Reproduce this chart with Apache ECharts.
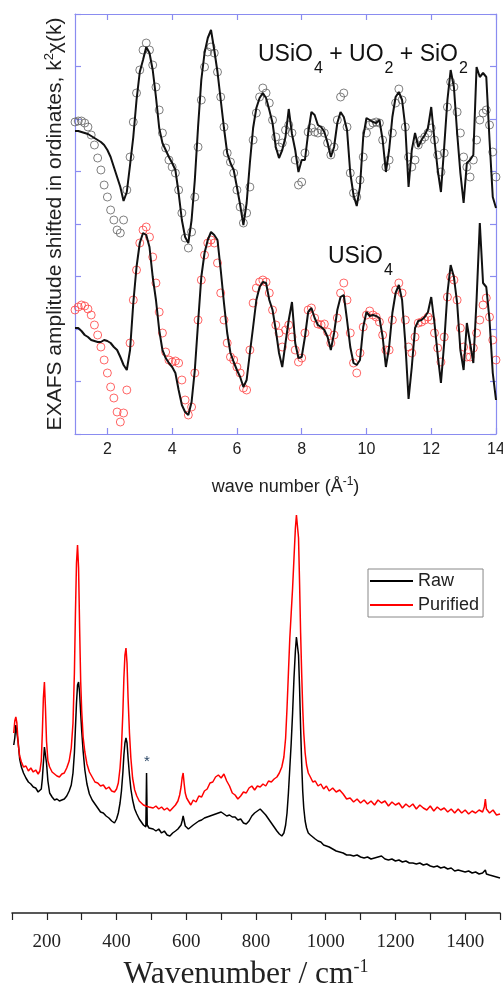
<!DOCTYPE html>
<html>
<head>
<meta charset="utf-8">
<script src="https://cdn.jsdelivr.net/npm/echarts@6/dist/echarts.min.js"></script>
<style>html,body{margin:0;padding:0;background:#fff;}#c{width:503px;height:986px;}</style>
</head>
<body>
<div id="c"></div>
<script>
// ---- EXAFS panel (wave number k, Å^-1) ----
const kVals = [
 1.0,1.1,1.2,1.3,1.4,1.5,1.6,1.7,1.8,1.9,
 2.0,2.1,2.2,2.3,2.4,2.5,2.6,2.7,2.8,2.9,
 3.0,3.1,3.2,3.3,3.4,3.5,3.6,3.7,3.8,3.9,
 4.0,4.1,4.2,4.3,4.4,4.5,4.6,4.7,4.8,4.9,
 5.0,5.1,5.2,5.3,5.4,5.5,5.6,5.7,5.8,5.9,
 6.0,6.1,6.2,6.3,6.4,6.5,6.6,6.7,6.8,6.9,
 7.0,7.1,7.2,7.3,7.4,7.5,7.6,7.7,7.8,7.9,
 8.0,8.1,8.2,8.3,8.4,8.5,8.6,8.7,8.8,8.9,
 9.0,9.1,9.2,9.3,9.4,9.5,9.6,9.7,9.8,9.9,
 10.0,10.1,10.2,10.3,10.4,10.5,10.6,10.7,10.8,10.9,
 11.0,11.1,11.2,11.3,11.4,11.5,11.6,11.7,11.8,11.9,
 12.0,12.1,12.2,12.3,12.4,12.5,12.6,12.7,12.8,12.9,
 13.0,13.1,13.2,13.3,13.4,13.5,13.6,13.7,13.8,13.9,
 14.0];
// USiO4 + UO2 + SiO2 (shifted up) : solid line
const mixLine = [
 303,303,302,301,300,298,296,294,292,289,
 284,277,267,257,247,233,242,269,297,334,
 362,374,387,381,364,337,306,291,284,277,
 271,264,241,214,197,191,214,254,307,354,
 381,396,404,384,362,334,306,281,271,264,
 247,229,209,231,271,306,326,336,341,336,
 324,311,287,276,284,297,325,300,284,262,
 274,274,301,322,319,309,307,302,291,277,
 287,311,322,317,304,261,239,228,247,297,
 316,314,312,311,314,294,262,284,317,337,
 342,334,307,247,284,301,287,294,299,306,
 327,294,264,242,287,334,364,347,301,261,
 231,271,274,279,367,357,361,357,294,237,
 226];
// USiO4 + UO2 + SiO2 : open circles
const mixCircles = [
 312,313,313,311,307,299,289,276,264,249,
 237,224,214,204,201,214,244,277,312,341,
 364,384,391,384,369,347,324,301,286,274,
 267,261,244,221,196,186,202,237,287,334,
 367,382,387,381,362,337,307,281,272,261,
 244,227,211,221,247,294,321,337,346,341,
 331,314,297,287,291,304,309,301,274,249,
 252,281,302,306,302,301,304,301,291,279,
 287,314,337,341,307,261,241,237,254,277,
 301,309,311,312,311,294,267,274,301,331,
 345,334,307,277,267,274,289,294,297,301,
 306,294,279,262,281,327,352,347,322,301,
 277,267,257,274,294,314,321,324,309,282,
 257];
// USiO4 : solid line
const usioLine = [
 106,106,103,99,97,94,93,92,92,94,
 93,91,87,84,77,69,64,84,131,167,
 191,201,199,187,157,134,104,84,76,71,
 67,61,44,29,22,19,32,64,111,157,
 181,194,202,199,194,164,131,101,81,72,
 64,57,47,54,81,107,134,147,152,151,
 134,124,104,81,67,91,114,132,91,76,
 77,97,122,126,116,109,107,104,97,84,
 101,124,137,139,114,87,71,69,74,107,
 122,118,119,118,116,97,67,87,121,141,
 149,134,91,35,67,106,113,114,117,122,
 137,111,79,51,91,141,169,157,131,84,
 64,111,91,71,134,211,151,147,114,61,
 34];
// USiO4 : open red circles
const usioCircles = [
 124,127,129,128,125,119,109,99,87,74,
 61,47,36,22,12,21,44,91,134,164,
 191,204,207,197,177,151,122,101,82,74,
 72,73,71,54,34,19,27,61,114,154,
 179,191,194,191,171,141,114,91,77,74,
 67,61,46,44,84,131,146,152,154,152,
 141,124,109,101,87,104,109,97,84,72,
 76,101,124,126,116,110,109,110,102,91,
 99,116,141,151,134,101,71,61,81,107,
 119,123,119,117,112,99,84,84,114,144,
 151,141,114,87,81,97,111,112,114,117,
 114,101,86,72,97,137,157,154,134,106,
 87,77,77,86,101,114,129,136,117,94,
 74];
const kTicks = [2,4,6,8,10,12,14];

// ---- Raman panel ----
const ramanX = [
 105,108,111,114,118,122,127,133,140,147,
 154,161,168,175,180,184,187,190,193,196,
 199,203,208,215,222,229,236,243,250,257,
 264,270,275,279,282,285,288,291,294,297,
 300,304,309,315,322,330,338,346,354,362,
 370,378,386,394,400,405,410,414,418,421,
 424,427,430,433,437,441,446,452,458,465,
 471,477,481,484,486,488,493,498,505,513,
 521,529,537,545,553,561,569,576,581,585,
 588,591,594,597,601,606,613,620,628,636,
 644,652,660,668,676,684,692,700,708,716,
 724,732,740,748,756,764,772,780,788,796,
 804,812,820,828,836,844,852,860,867,874,
 880,885,889,893,897,901,905,909,913,916,
 919,922,925,928,931,934,937,941,945,950,
 956,963,970,978,986,994,1002,1010,1020,1030,
 1040,1050,1060,1070,1080,1090,1100,1110,1120,1130,
 1140,1150,1160,1170,1180,1190,1200,1210,1220,1230,
 1240,1250,1260,1270,1280,1290,1300,1310,1320,1330,
 1340,1350,1360,1370,1380,1390,1400,1410,1420,1430,
 1440,1450,1455,1458,1461,1470,1480,1490,1500];
const rawY = [
 168,175,188,190,170,154,146,140,135,131,
 129,126,125,121,119,124,134,150,166,168,
 150,132,120,116,113,114,112,113,114,117,
 122,128,140,160,185,210,228,231,220,200,
 182,162,143,129,119,113,109,105,101,100,
 97,95,92,90,94,100,110,122,140,158,
 170,175,170,155,138,124,113,104,99,94,
 91,88,87,86,140,88,85,86,84,82,
 84,80,82,78,77,80,82,84,85,88,
 92,97,92,87,85,84,86,88,90,92,
 93,95,96,97,98,99,100,101,99,97,
 98,96,96,93,94,90,89,92,97,100,
 102,104,101,98,94,90,86,82,79,77,
 80,88,100,120,145,170,200,235,262,276,
 278,258,225,185,150,122,105,92,85,80,
 78,76,74,72,71,68,67,66,64,62,
 61,60,58,58,57,58,56,55,56,54,
 55,56,57,54,53,54,52,53,51,52,
 50,50,49,50,48,49,47,46,47,45,
 46,44,45,42,43,42,41,42,40,41,
 39,40,38,43,39,38,37,36,35];
const purifiedY = [
 180,192,196,190,168,157,151,146,147,142,
 145,141,143,139,142,152,180,215,231,205,
 172,152,146,141,139,137,136,139,140,145,
 152,165,190,240,300,350,368,345,285,232,
 202,176,161,149,141,136,131,130,127,128,
 124,126,122,121,124,130,145,165,200,235,
 258,265,250,215,180,155,135,123,117,112,
 110,108,109,107,108,107,106,108,105,107,
 104,106,103,105,102,105,108,112,118,126,
 135,140,129,120,115,112,108,113,111,117,
 116,122,124,130,131,136,138,135,139,132,
 127,120,118,114,117,121,120,125,127,123,
 127,126,129,127,132,131,134,136,140,146,
 156,175,205,240,275,300,325,355,385,398,
 399,375,330,280,240,205,180,160,148,140,
 136,131,132,127,129,124,127,122,125,121,
 123,119,114,115,111,114,110,113,109,112,
 108,113,110,112,107,111,108,110,105,109,
 106,109,104,108,105,103,107,102,106,103,
 105,101,104,100,104,100,103,99,102,100,
 103,101,106,114,104,100,103,98,99];

const pair = (xs, ys) => xs.map((x, i) => [x, ys[i]]);

const frame = '#8a8cf0';
const sans = 'Liberation Sans, Arial, sans-serif';
const serif = 'Liberation Serif, Times New Roman, serif';

const chart = echarts.init(document.getElementById('c'), null, {renderer: 'canvas'});
const frameAxisX = (pos, extra) => Object.assign({
  type: 'value', gridIndex: 0, position: pos, min: 1, max: 14,
  axisLine: {show: true, onZero: false, lineStyle: {color: frame, width: 1.2}},
  axisTick: {show: true, inside: true, length: 6, customValues: kTicks, lineStyle: {color: frame, width: 1.2}},
  axisLabel: {show: false},
  splitLine: {show: false}
}, extra || {});
const frameAxisY = (pos, extra) => Object.assign({
  type: 'value', gridIndex: 0, position: pos, min: 0, max: 420, interval: 52.5,
  axisLine: {show: true, onZero: false, lineStyle: {color: frame, width: 1.2}},
  axisTick: {show: true, inside: true, length: 6, lineStyle: {color: frame, width: 1.2}},
  axisLabel: {show: false},
  splitLine: {show: false}
}, extra || {});
const richLabel = {
  a: {fontSize: 23, lineHeight: 24, verticalAlign: 'top', fontFamily: sans, fill: '#111'},
  s: {fontSize: 16, lineHeight: 16, padding: [18, 0, 0, 1], verticalAlign: 'top', fontFamily: sans, fill: '#111'}
};

chart.setOption({
  animation: false,
  backgroundColor: '#fff',
  grid: [
    {left: 75, top: 14, width: 421, height: 420, outerBoundsMode: 'none', containLabel: false},
    {left: 12, top: 513, width: 488, height: 400, outerBoundsMode: 'none', containLabel: false}
  ],
  xAxis: [
    frameAxisX('bottom', {
      axisLabel: {show: true, customValues: kTicks, fontSize: 16, margin: 8, color: '#222', fontFamily: sans},
      name: 'wave number (Å{sup|-1})', nameLocation: 'middle', nameGap: 42,
      nameTextStyle: {fontSize: 18, color: '#222', fontFamily: sans, lineHeight: 22,
        rich: {sup: {fontSize: 12, lineHeight: 12, verticalAlign: 'top', fontFamily: sans, color: '#222'}}}
    }),
    frameAxisX('top'),
    {
      type: 'value', gridIndex: 1, min: 100, max: 1500, interval: 100,
      axisLine: {show: true, onZero: false, lineStyle: {color: '#222', width: 1.5}},
      axisTick: {show: true, inside: false, length: 7, lineStyle: {color: '#222', width: 1.2}},
      axisLabel: {show: true, fontSize: 19, margin: 20, color: '#222', fontFamily: serif,
        formatter: v => (v % 200 === 0 ? String(v) : '')},
      splitLine: {show: false},
      name: 'Wavenumber / cm{sup|-1}', nameLocation: 'middle', nameGap: 45,
      nameTextStyle: {fontSize: 31.5, color: '#222', fontFamily: serif, lineHeight: 34, padding: [0, 20, 0, 0],
        rich: {sup: {fontSize: 18, lineHeight: 18, verticalAlign: 'top', fontFamily: serif, color: '#222'}}}
    }
  ],
  yAxis: [
    frameAxisY('left', {
      name: 'EXAFS amplitude shifted in ordinates, k{sup|2}χ(k)', nameLocation: 'middle', nameGap: 8,
      nameTextStyle: {fontSize: 21, color: '#222', fontFamily: sans, lineHeight: 24,
        rich: {sup: {fontSize: 13, lineHeight: 13, verticalAlign: 'top', fontFamily: sans, color: '#222'}}}
    }),
    frameAxisY('right'),
    {type: 'value', gridIndex: 1, min: 0, max: 400, show: false}
  ],
  legend: {
    data: ['Raw', 'Purified'], orient: 'vertical', left: 368, top: 569,
    icon: 'rect', itemWidth: 43, itemHeight: 2, itemGap: 4,
    padding: [2, 4, 2, 2], borderColor: '#888', borderWidth: 1,
    selectedMode: false,
    textStyle: {fontSize: 18, lineHeight: 20, color: '#222', fontFamily: sans}
  },
  graphic: [
    {type: 'text', x: 258, y: 43, z: 100, style: {
      text: '{a|USiO}{s|4}{a| + UO}{s|2}{a| + SiO}{s|2}', rich: richLabel}},
    {type: 'text', x: 328, y: 245, z: 100, style: {
      text: '{a|USiO}{s|4}', rich: richLabel}},
    {type: 'text', x: 147, y: 762, z: 100, style: {
      text: '*', fontSize: 15, fontFamily: sans, fill: '#2b4766', align: 'center', verticalAlign: 'middle'}}
  ],
  series: [
    {name: 'mixCircles', type: 'scatter', xAxisIndex: 0, yAxisIndex: 0, data: pair(kVals, mixCircles),
      symbol: 'circle', symbolSize: 8, itemStyle: {color: 'rgba(0,0,0,0)', borderColor: '#606060', borderWidth: 1}},
    {name: 'mixLine', type: 'line', xAxisIndex: 0, yAxisIndex: 0, data: pair(kVals, mixLine),
      showSymbol: false, symbol: 'none', lineStyle: {color: '#111', width: 2}},
    {name: 'usioCircles', type: 'scatter', xAxisIndex: 0, yAxisIndex: 0, data: pair(kVals, usioCircles),
      symbol: 'circle', symbolSize: 8, itemStyle: {color: 'rgba(0,0,0,0)', borderColor: '#ff4040', borderWidth: 1}},
    {name: 'usioLine', type: 'line', xAxisIndex: 0, yAxisIndex: 0, data: pair(kVals, usioLine),
      showSymbol: false, symbol: 'none', lineStyle: {color: '#111', width: 2}},
    {name: 'Raw', type: 'line', xAxisIndex: 2, yAxisIndex: 2, data: pair(ramanX, rawY),
      showSymbol: false, symbol: 'none', color: '#000', lineStyle: {color: '#000', width: 1.5}},
    {name: 'Purified', type: 'line', xAxisIndex: 2, yAxisIndex: 2, data: pair(ramanX, purifiedY),
      showSymbol: false, symbol: 'none', color: '#ff0000', lineStyle: {color: '#ff0000', width: 1.5}}
  ]
});
</script>
</body>
</html>
